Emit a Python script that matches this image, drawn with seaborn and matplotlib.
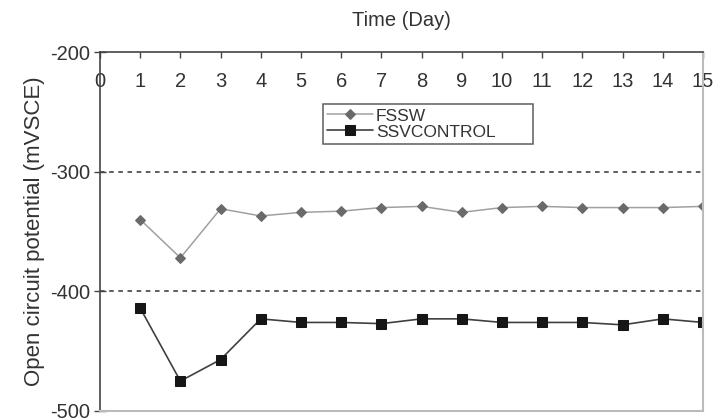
import matplotlib
matplotlib.use("Agg")
import matplotlib.pyplot as plt
import seaborn as sns
import pandas as pd

days = list(range(1, 16))
fssw = [-340, -372, -331, -337, -334, -333, -330, -329, -334, -330, -329, -330, -330, -330, -329]
ssv_control = [-414, -475, -457, -423, -426, -426, -427, -423, -423, -426, -426, -426, -428, -423, -426]
x_ticks = list(range(0, 16))
y_ticks = [-200, -300, -400, -500]

sns.set_theme(style="white")
plt.rcParams["font.family"] = ["Liberation Sans", "DejaVu Sans"]
plt.rcParams["axes.unicode_minus"] = False

df = pd.concat([
    pd.DataFrame({"Day": days, "OCP": fssw, "Series": "FSSW"}),
    pd.DataFrame({"Day": days, "OCP": ssv_control, "Series": "SSVCONTROL"}),
])

fig = plt.figure(figsize=(7.14, 4.18), dpi=100)
ax = fig.add_axes([100 / 714, 1 - 411 / 418, 603 / 714, 359 / 418])

sns.lineplot(data=df[df.Series == "FSSW"], x="Day", y="OCP", ax=ax, color="#a0a0a0",
             lw=1.1, marker="D", markersize=5.2, markerfacecolor="#6a6a6a",
             markeredgecolor="#6a6a6a", label="FSSW")
sns.lineplot(data=df[df.Series == "SSVCONTROL"], x="Day", y="OCP", ax=ax, color="#404040",
             lw=1.2, marker="s", markersize=6.5, markerfacecolor="#161616",
             markeredgecolor="#161616", label="SSVCONTROL")

ax.set_xlim(0, 15)
ax.set_ylim(-500, -200)
ax.set_xticks(x_ticks)
ax.set_yticks(y_ticks)
for y in [-300, -400]:
    ax.axhline(y, color="#333333", lw=1.1, ls=(0, (3, 3)), zorder=0)

ax.xaxis.tick_top()
ax.tick_params(axis="x", top=True, bottom=False, labeltop=True, labelbottom=False,
               direction="in", length=4, width=1, color="#444444", pad=-28,
               labelsize=14.5, labelcolor="#333333")
ax.tick_params(axis="y", left=True, direction="inout", length=8, width=1,
               color="#444444", labelsize=14.5, labelcolor="#333333", pad=3)

for side in ["top", "left"]:
    ax.spines[side].set_color("#444444")
    ax.spines[side].set_linewidth(1.2)
for side in ["bottom", "right"]:
    ax.spines[side].set_color("#bbbbbb")
    ax.spines[side].set_linewidth(1.5)

ax.set_xlabel("")
ax.set_ylabel("Open circuit potential (mVSCE)", fontsize=16, color="#333333", labelpad=4)
ax.set_title("Time (Day)", fontsize=14.5, color="#333333", pad=19)

leg = ax.legend(loc="lower left", bbox_to_anchor=(0.37, 0.744, 0.348, 0.12), mode="expand",
                fontsize=12.5, frameon=True, fancybox=False, edgecolor="#444444",
                handlelength=2.6, borderpad=0.25, labelspacing=0.05, handletextpad=0.2,
                borderaxespad=0)
leg.get_frame().set_linewidth(1.2)
for t in leg.get_texts():
    t.set_color("#333333")

fig.savefig("out.png", dpi=100, facecolor="white")
